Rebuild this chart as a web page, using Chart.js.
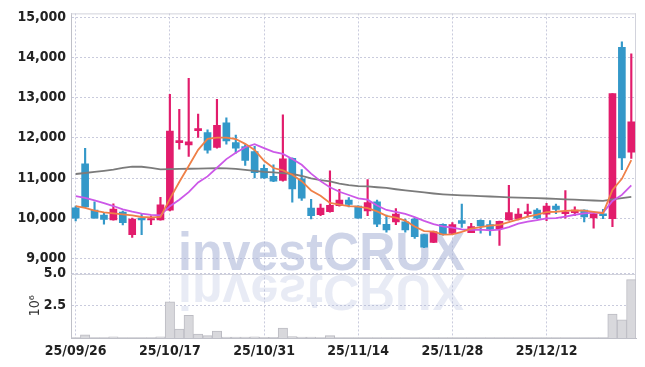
<!DOCTYPE html>
<html>
<head>
<meta charset="utf-8">
<script src="https://cdn.jsdelivr.net/npm/chart.js@4"></script>
<style>
  html, body { margin: 0; padding: 0; background: #fff; }
  canvas { display: block; }
</style>
</head>
<body>
<canvas id="myChart" width="645" height="367"></canvas>
<script>
// Daily candles (KRW)
const dates = [
  '25/09/26','25/09/29','25/09/30','25/10/01','25/10/02','25/10/10','25/10/13','25/10/14','25/10/15','25/10/16',
  '25/10/17','25/10/20','25/10/21','25/10/22','25/10/23','25/10/24','25/10/27','25/10/28','25/10/29','25/10/30',
  '25/10/31','25/11/03','25/11/04','25/11/05','25/11/06','25/11/07','25/11/10','25/11/11','25/11/12','25/11/13',
  '25/11/14','25/11/17','25/11/18','25/11/19','25/11/20','25/11/21','25/11/24','25/11/25','25/11/26','25/11/27',
  '25/11/28','25/12/01','25/12/02','25/12/03','25/12/04','25/12/05','25/12/08','25/12/09','25/12/10','25/12/11',
  '25/12/12','25/12/15','25/12/16','25/12/17','25/12/18','25/12/19','25/12/22','25/12/23','25/12/24','25/12/26'
];
const opens = [
  10260,11350,10200,10080,9960,10150,9590,10000,9960,9960,
  10200,11880,11820,12180,12130,11760,12370,11880,11780,11660,
  11240,11040,10940,11490,10980,10250,10090,10160,10310,10450,
  10300,10180,10410,9850,9910,9910,9980,9590,9400,9850,
  9620,9940,9640,9950,9840,9740,9960,9980,10110,10200,
  10100,10300,10110,10140,10200,10010,10110,9990,14250,11640
];
const highs = [
  10300,11740,10410,10140,10360,10180,10000,10100,10060,10520,
  13080,12710,13480,12590,12200,12960,12500,12070,11830,11790,
  11330,11330,12570,11500,11210,10470,10350,11180,10720,10510,
  10310,10960,10450,10080,10240,9980,10020,9600,9680,9860,
  9890,10350,9870,9960,9940,9930,10820,10240,10350,10240,
  10370,10350,10690,10280,10210,10120,10220,13100,14390,14090
];
const lows = [
  9930,10260,10000,9850,9950,9830,9520,9590,9840,9950,
  10180,11720,11540,12010,11620,11740,11840,11620,11310,11000,
  10990,10910,10920,10400,10440,9980,10060,10150,10300,10280,
  10000,10060,9790,9650,9840,9650,9500,9270,9390,9580,
  9610,9770,9640,9630,9570,9320,9950,9960,10030,9990,
  9940,10110,10000,10060,9910,9750,9990,9790,11210,11490
];
const closes = [
  10000,10280,10000,9970,10230,9890,9980,9960,9990,10330,
  12170,11930,11900,12230,11690,12310,11920,11740,11440,11130,
  11000,10920,11480,10730,10500,10060,10250,10320,10450,10340,
  10000,10390,9850,9710,10100,9710,9540,9280,9670,9590,
  9840,9870,9790,9810,9720,9920,10140,10100,10160,10000,
  10300,10220,10160,10200,10030,10110,10060,13100,11500,12400
];
// moving average lines as drawn in the picture
const ma5 = [
  10300,10255,10190,10145,10120,10095,10070,10030,10020,10030,
  10480,10900,11300,11700,11975,12005,12005,11970,11850,11700,
  11430,11248,11190,11080,10920,10690,10560,10380,10340,10300,
  10290,10250,10170,10057,10012,9940,9795,9680,9665,9590,
  9600,9660,9740,9780,9815,9835,9900,9970,10040,10090,
  10150,10160,10180,10195,10190,10155,10125,10705,10980,11445
];
const ma10 = [
  10550,10508,10444,10377,10303,10222,10163,10113,10081,10070,
  10300,10460,10650,10890,11040,11255,11470,11630,11766,11843,
  11745,11650,11600,11475,11330,11110,10922,10770,10658,10577,
  10494,10460,10315,10204,10155,10105,10028,9935,9855,9797,
  9768,9720,9710,9714,9695,9715,9777,9867,9912,9954,
  9997,10003,10042,10086,10118,10140,10136,10430,10580,10815
];
const ma60 = [
  11100,11125,11150,11180,11210,11250,11285,11280,11250,11215,
  11220,11225,11230,11235,11240,11245,11240,11225,11200,11175,
  11150,11140,11120,11100,11050,10990,10945,10915,10860,10825,
  10800,10790,10770,10755,10720,10690,10665,10640,10615,10595,
  10580,10570,10560,10550,10540,10530,10520,10510,10505,10500,
  10490,10480,10470,10460,10450,10440,10430,10470,10500,10530
];
// volume in millions of shares
const volume = [
  0.03,0.25,0.03,0.03,0.10,0.03,0.03,0.03,0.03,0.10,
  2.82,0.69,1.77,0.31,0.18,0.54,0.08,0.08,0.08,0.10,
  0.05,0.05,0.77,0.12,0.08,0.08,0.04,0.18,0.04,0.04,
  0.04,0.04,0.04,0.04,0.04,0.04,0.04,0.04,0.04,0.04,
  0.04,0.04,0.04,0.04,0.04,0.04,0.04,0.04,0.04,0.04,
  0.04,0.04,0.04,0.04,0.04,0.04,0.04,1.85,1.41,4.54
];
const priceTicks = [9000, 10000, 11000, 12000, 13000, 14000, 15000];
const volTicks = [2.5, 5.0];

const upColor = '#e21c6c';
const downColor = '#3398c9';
const gridColor = '#c9cbdd';
const tickFont = "'Liberation Sans Narrow', 'DejaVu Sans Condensed', 'Liberation Sans', sans-serif";

const bodies = dates.map((d, i) => [opens[i], closes[i]]);
const wicks = dates.map((d, i) => [lows[i], highs[i]]);
const candleColors = dates.map((d, i) => closes[i] >= opens[i] ? upColor : downColor);

// watermark + frame lines
const decor = {
  id: 'decor',
  beforeDatasetsDraw(chart) {
    const ctx = chart.ctx;
    const area = chart.chartArea;
    ctx.save();
    ctx.font = "bold 54px 'Liberation Sans', Arial, sans-serif";
    const w = ctx.measureText('investCRUX').width;
    const sx = 287 / w;
    ctx.fillStyle = 'rgba(165,176,214,0.55)';
    ctx.setTransform(sx, 0, 0, 1, 178, 270);
    ctx.fillText('investCRUX', 0, 0);
    ctx.fillStyle = 'rgba(165,176,214,0.25)';
    ctx.setTransform(sx, 0, 0, -0.92, 178, 275);
    ctx.fillText('investCRUX', 0, 0);
    ctx.setTransform(1, 0, 0, 1, 0, 0);

    const ySep = Math.round(chart.scales.yv.getPixelForValue(5)) + 0.5;
    ctx.strokeStyle = '#d2d3dc';
    ctx.lineWidth = 1;
    ctx.beginPath();
    ctx.moveTo(area.left, ySep);
    ctx.lineTo(area.right, ySep);
    ctx.moveTo(area.left, area.top + 0.5);
    ctx.lineTo(area.right, area.top + 0.5);
    ctx.moveTo(area.right - 0.5, area.top);
    ctx.lineTo(area.right - 0.5, area.bottom);
    ctx.stroke();
    ctx.restore();
  }
};

const ctx = document.getElementById('myChart');
new Chart(ctx, {
  type: 'bar',
  data: {
    labels: dates,
    datasets: [
      { type: 'line', label: 'MA5', data: ma5, borderColor: '#ef8048', borderWidth: 1.8, pointRadius: 0, yAxisID: 'y', order: 0 },
      { type: 'line', label: 'MA10', data: ma10, borderColor: '#cc58e8', borderWidth: 1.8, pointRadius: 0, yAxisID: 'y', order: 1 },
      { type: 'line', label: 'MA60', data: ma60, borderColor: '#7b7b7b', borderWidth: 1.8, pointRadius: 0, yAxisID: 'y', order: 2 },
      { label: 'body', data: bodies, backgroundColor: candleColors, barThickness: 7, grouped: false, yAxisID: 'y', order: 3 },
      { label: 'wick', data: wicks, backgroundColor: candleColors, barThickness: 1.5, grouped: false, yAxisID: 'y', order: 4 },
      { label: 'volume', data: volume, backgroundColor: '#d8d8dc', borderColor: '#bcbcc3', borderWidth: 1,
        barPercentage: 1, categoryPercentage: 1, grouped: false, yAxisID: 'yv', order: 5 }
    ]
  },
  options: {
    responsive: false,
    animation: false,
    layout: { padding: { top: 10, right: 9, bottom: 1, left: 0 } },
    plugins: { legend: { display: false }, tooltip: { enabled: false } },
    scales: {
      x: {
        type: 'category',
        offset: true,
        grid: { offset: false, color: gridColor, drawTicks: false },
        border: { color: '#bfc0c8', dash: [2, 2] },
        afterBuildTicks: s => { s.ticks = s.ticks.filter(t => t.value % 10 === 0); },
        afterFit: s => { s.height = 28; },
        ticks: { autoSkip: false, maxRotation: 0, padding: 5, color: '#222',
                 font: { family: tickFont, size: 14, weight: 'bold' } }
      },
      y: {
        type: 'linear',
        position: 'left',
        stack: 'panes',
        stackWeight: 263,
        weight: 2,
        min: 8620,
        max: 15095,
        grid: { color: gridColor, drawTicks: false },
        border: { color: '#bfc0c8', dash: [2, 2] },
        afterBuildTicks: s => { s.ticks = priceTicks.map(v => ({ value: v })); },
        afterFit: s => { s.width = 71; },
        ticks: { padding: 5, color: '#222', font: { family: tickFont, size: 14, weight: 'bold' },
                 callback: v => v.toLocaleString('en-US') }
      },
      yv: {
        type: 'linear',
        position: 'left',
        stack: 'panes',
        stackWeight: 65,
        weight: 1,
        min: 0,
        max: 5,
        grid: { color: gridColor, drawTicks: false },
        border: { color: '#bfc0c8', dash: [2, 2] },
        afterBuildTicks: s => { s.ticks = volTicks.map(v => ({ value: v })); },
        afterFit: s => { s.width = 71; },
        title: { display: true, text: '10⁶', color: '#333', padding: { top: 27, bottom: 0 },
                 font: { family: tickFont, size: 14 } },
        ticks: { padding: 5, color: '#222', font: { family: tickFont, size: 14, weight: 'bold' },
                 callback: v => v.toFixed(1) }
      }
    }
  },
  plugins: [decor]
});
</script>
</body>
</html>
